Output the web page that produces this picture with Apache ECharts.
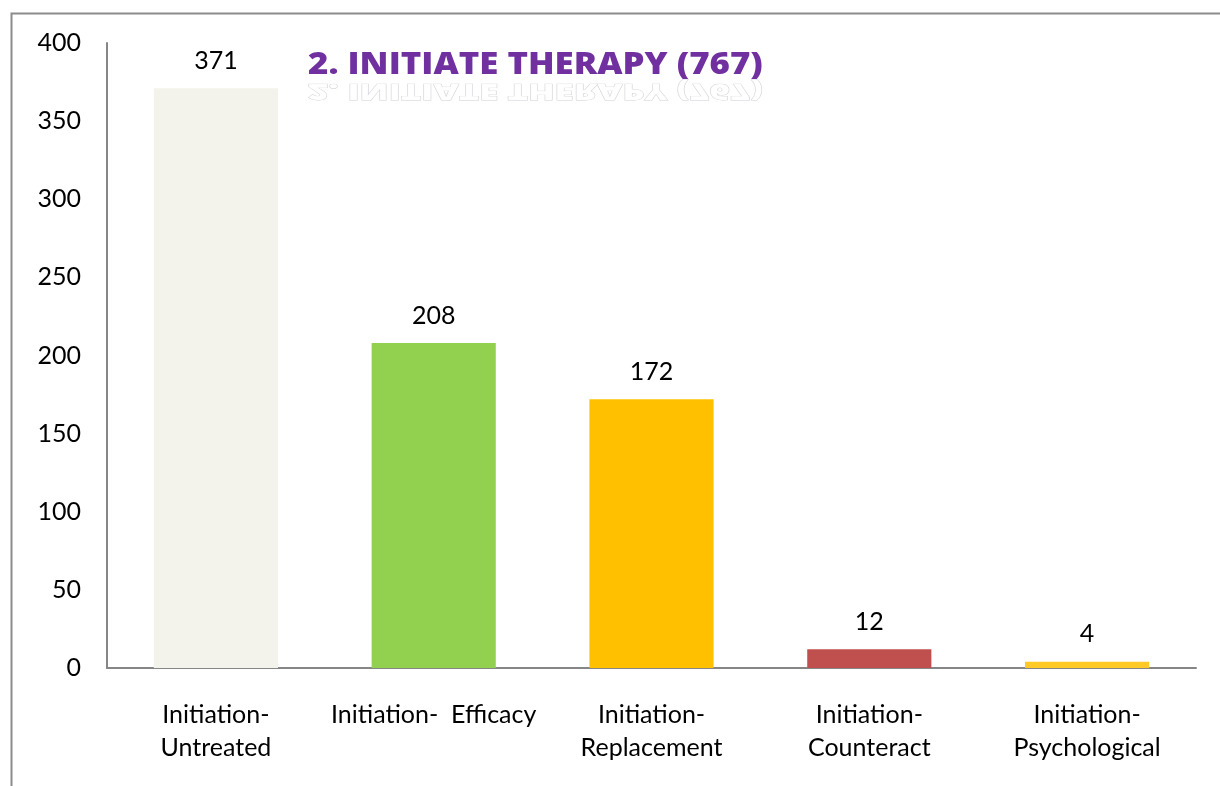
<!DOCTYPE html>
<html>
<head>
<meta charset="utf-8">
<script src="https://cdn.jsdelivr.net/npm/echarts@6/dist/echarts.min.js"></script>
<style>
  html, body { margin: 0; padding: 0; background: #fff; }
  #chart { width: 1220px; height: 786px; }
</style>
</head>
<body>
<div id="chart"></div>
<script>
// data
const categories = ['Initiation-\nUntreated', 'Initiation-  Efficacy', 'Initiation-\nReplacement', 'Initiation-\nCounteract', 'Initiation-\nPsychological'];
const values = [371, 208, 172, 12, 4];
const barColors = ['#F3F3EB', '#92D050', '#FFC000', '#C0504D', '#FFC926'];
const titleText = '2. INITIATE THERAPY (767)';

const chart = echarts.init(document.getElementById('chart'));

const option = {
  animation: false,
  grid: { left: 107, right: 24, top: 43, bottom: 118, containLabel: false },
  graphic: [
    // outer frame (runs off the right and bottom edges)
    {
      type: 'rect', left: 9, top: 11, silent: true,
      shape: { width: 1400, height: 900 },
      style: { fill: 'none', stroke: '#8c8c8c', lineWidth: 2 }
    },
    // reflection of the title
    {
      type: 'text', x: 308, y: 102, scaleX: 1.16, scaleY: -0.75, silent: true, z: 9,
      style: {
        text: titleText, font: '800 30px "Open Sans"', fill: 'rgba(255,255,255,0.9)',
        stroke: 'rgba(120,120,140,0.35)', lineWidth: 1, textVerticalAlign: 'top'
      }
    },
    {
      type: 'text', x: 308, y: 50, scaleX: 1.16, silent: true, z: 10,
      style: {
        text: titleText, font: '800 30px "Open Sans"', fill: '#7030A0',
        textVerticalAlign: 'top',
        shadowColor: 'rgba(112,48,160,0.55)', shadowBlur: 4
      }
    }
  ],
  xAxis: {
    type: 'category',
    data: categories,
    axisLine: { lineStyle: { color: '#868686', width: 2 } },
    axisTick: { show: false },
    axisLabel: {
      color: '#000', fontSize: 25, fontFamily: 'Lato', margin: 30,
      lineHeight: 33, interval: 0, verticalAlign: 'top'
    }
  },
  yAxis: {
    type: 'value', min: 0, max: 400, interval: 50,
    axisLine: { show: true, lineStyle: { color: '#868686', width: 2 } },
    axisTick: { show: false },
    splitLine: { show: false },
    axisLabel: { color: '#000', fontSize: 25, fontFamily: 'Lato', margin: 26 }
  },
  series: [{
    type: 'bar',
    data: values.map((v, i) => ({ value: v, itemStyle: { color: barColors[i] } })),
    barCategoryGap: '43%',
    label: {
      show: true, position: 'top', distance: 15,
      color: '#000', fontSize: 25, fontFamily: 'Lato'
    }
  }]
};

chart.setOption(option);
</script>
</body>
</html>
